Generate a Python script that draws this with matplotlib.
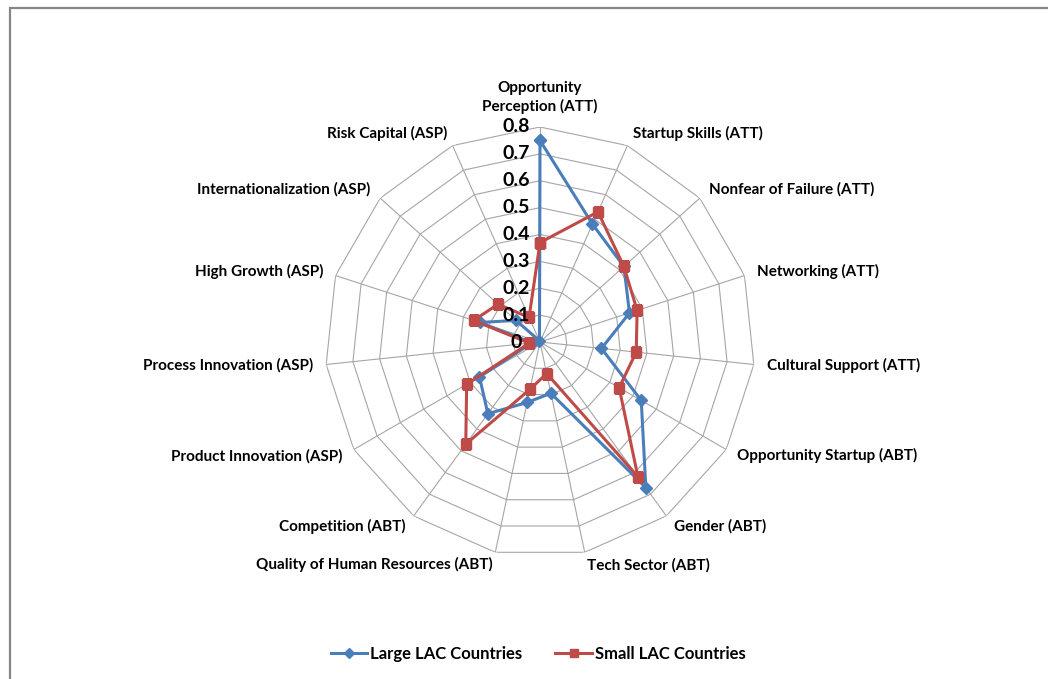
import numpy as np
import matplotlib
matplotlib.use("Agg")
import matplotlib.pyplot as plt
from matplotlib.patches import Rectangle

plt.rcParams['font.family'] = ['Lato', 'DejaVu Sans']

categories = ["Opportunity\nPerception (ATT)", "Startup Skills (ATT)", "Nonfear of Failure (ATT)",
              "Networking (ATT)", "Cultural Support (ATT)", "Opportunity Startup (ABT)",
              "Gender (ABT)", "Tech Sector (ABT)", "Quality of Human Resources (ABT)",
              "Competition (ABT)", "Product Innovation (ASP)", "Process Innovation (ASP)",
              "High Growth (ASP)", "Internationalization (ASP)", "Risk Capital (ASP)"]
large = [0.75, 0.48, 0.42, 0.35, 0.23, 0.435, 0.67, 0.195, 0.23, 0.33, 0.26, 0.03, 0.235, 0.12, 0.005]
small = [0.37, 0.53, 0.42, 0.38, 0.36, 0.34, 0.62, 0.12, 0.18, 0.47, 0.315, 0.04, 0.26, 0.21, 0.10]
rings = [0.1, 0.2, 0.3, 0.4, 0.5, 0.6, 0.7, 0.8]
ring_labels = ["0", "0.1", "0.2", "0.3", "0.4", "0.5", "0.6", "0.7", "0.8"]

W, H = 1048, 679
fig = plt.figure(figsize=(W / 100, H / 100), dpi=100)
# chart frame (top/left edges visible, rest runs off the image)
fig.add_artist(Rectangle((9.5 / W, -0.1), 1.2, 1 - 8.5 / H + 0.1, transform=fig.transFigure,
                         fill=False, edgecolor="#868686", linewidth=1.6, clip_on=False))

cx, cy, R = 540, 342, 215
ax = fig.add_axes([(cx - R) / W, (H - cy - R) / H, 2 * R / W, 2 * R / H], projection="polar")
ax.set_theta_zero_location("N")
ax.set_theta_direction(-1)
ax.set_ylim(0, 0.8)
ax.axis("off")

n = len(categories)
theta = np.arange(n) * 2 * np.pi / n
tc = np.append(theta, theta[0])

grid_c = "#a6a6a6"
for r in rings:
    ax.plot(tc, [r] * (n + 1), color=grid_c, lw=0.8, zorder=1)
for t in theta:
    ax.plot([t, t], [0, 0.8], color=grid_c, lw=0.8, zorder=1)

ax.plot(tc, large + large[:1], color="#4a7ebb", lw=2.2, marker="D", ms=6.5,
        label="Large LAC Countries", zorder=3)
ax.plot(tc, small + small[:1], color="#be4b48", lw=2.2, marker="s", ms=7.5,
        label="Small LAC Countries", zorder=4)

# category labels
for t, lab in zip(theta, categories):
    s = np.sin(t)
    if abs(s) < 1e-6:
        ax.text(t, 0.848, lab, ha="center", va="bottom", fontsize=11, fontweight="bold",
                linespacing=1.3, clip_on=False)
    else:
        ax.text(t, 0.848, lab, ha="left" if s > 0 else "right", va="center",
                fontsize=11, fontweight="bold", clip_on=False)

# value labels along the vertical axis
for v, lab in zip([0] + rings, ring_labels):
    ax.annotate(lab, xy=(0, v), xytext=(-24, 0), textcoords="offset pixels",
                ha="center", va="center", fontsize=14, fontweight="bold", zorder=5,
                annotation_clip=False)

fig.legend(loc="center", bbox_to_anchor=(538 / W, 1 - 654 / H), ncol=2, frameon=False,
           prop={"size": 12, "weight": "bold"}, handlelength=2.2, columnspacing=2.0,
           handletextpad=0.15, markerscale=0.75)

fig.savefig("out.png", dpi=100, facecolor="white")
